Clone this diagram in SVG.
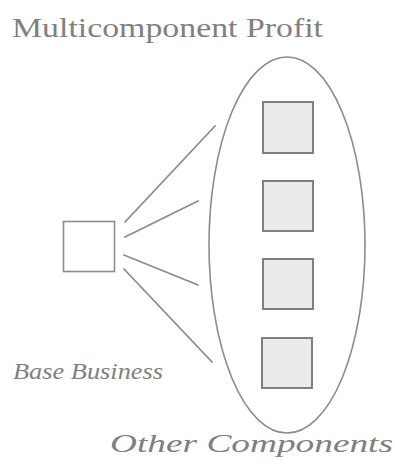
<svg xmlns="http://www.w3.org/2000/svg" width="395" height="468" viewBox="0 0 395 468">
<style>
.t{font-family:"Liberation Serif","Times New Roman",serif;fill:#808080}
.i{font-style:italic}
.ln{stroke:#8c8c8c;stroke-width:1.8;fill:none;stroke-linecap:round}
.comp{fill:#ebebeb;stroke:#808080;stroke-width:2}
</style>
<rect width="395" height="468" fill="#ffffff"/>
<text class="t" x="12" y="37" font-size="28" textLength="311" lengthAdjust="spacingAndGlyphs">Multicomponent Profit</text>
<g id="connectors">
<line class="ln" x1="125" y1="222" x2="215" y2="126"/>
<line class="ln" x1="125" y1="237" x2="198" y2="201"/>
<line class="ln" x1="124" y1="255" x2="198" y2="285"/>
<line class="ln" x1="124" y1="269" x2="212" y2="362"/>
</g>
<g id="base-business">
<rect x="63.5" y="221.5" width="51" height="50" fill="#ffffff" stroke="#8c8c8c" stroke-width="1.6"/>
<text class="t i" x="13" y="379" font-size="24" textLength="150" lengthAdjust="spacingAndGlyphs">Base Business</text>
</g>
<g id="other-components">
<ellipse cx="287" cy="245" rx="78" ry="188" fill="none" stroke="#8c8c8c" stroke-width="1.6"/>
<rect class="comp" x="263" y="102" width="50" height="51"/>
<rect class="comp" x="263" y="181" width="50" height="50"/>
<rect class="comp" x="263" y="259" width="50" height="50"/>
<rect class="comp" x="262" y="338" width="50" height="50"/>
<text class="t i" x="110" y="452" font-size="25" textLength="283" lengthAdjust="spacingAndGlyphs">Other Components</text>
</g>
</svg>
